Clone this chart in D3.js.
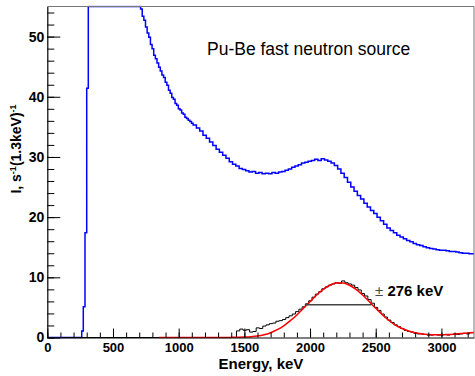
<!DOCTYPE html>
<html>
<head>
<meta charset="utf-8">
<script src="https://cdn.jsdelivr.net/npm/d3@7"></script>
<style>
  html, body { margin: 0; padding: 0; background: #fff; }
  svg { display: block; }
  text { font-family: "Liberation Sans", Arial, Helvetica, sans-serif; }
</style>
</head>
<body>
<svg id="chart" width="475" height="376"></svg>
<script>
// ---------------- data ----------------
const xTicks = [0, 500, 1000, 1500, 2000, 2500, 3000];
const yTicks = [0, 10, 20, 30, 40, 50];

// blue spectrum: rising edge (bin lower edges / values; plateau is off-scale)
const blueRiseE = [0, 262, 274, 287, 300, 312];
const blueRiseV = [0, 1.1, 5.1, 17.4, 41.4, 80];
// blue steep descent: 12.5 keV bins starting at 710 keV
const blueSteepStart = 710;
const blueSteepW = 12.5;
const blueSteepV = [
  54.6, 53.4, 52.7, 51.6, 50.6, 49.9, 48.7, 48.0, 46.9, 46.3,
  45.6, 44.9, 44.3, 43.6, 43.2, 42.4, 41.9, 41.1, 40.6, 39.9,
  39.6, 38.9, 38.6, 38.0, 37.8, 37.3, 37.1, 36.6, 36.4, 36.1,
  35.9, 35.6
];
// blue tail: 25 keV bins starting at 1110 keV
const blueTailStart = 1110;
const blueTailW = 25;
const blueTailV = [
  35.3, 34.8, 34.3, 33.6,
  33.1, 32.5, 31.9, 31.3, 30.8, 30.3, 29.8, 29.2, 28.8, 28.5,
  28.1, 27.9, 27.7, 27.5, 27.6, 27.3, 27.4, 27.2, 27.3, 27.2,
  27.4, 27.3, 27.5, 27.6, 27.8, 28.0, 28.3, 28.5, 28.7, 29.0,
  29.1, 29.3, 29.4, 29.6, 29.4, 29.7, 29.5, 29.3, 29.0, 28.6,
  28.0, 27.3, 26.6, 25.8, 25.0, 24.3, 23.6, 23.0, 22.3, 21.7,
  21.1, 20.6, 20.0, 19.4, 18.8, 18.2, 17.8, 17.4, 17.0, 16.7,
  16.4, 16.1, 15.9, 15.6, 15.4, 15.3, 15.1, 14.9, 14.8, 14.7,
  14.6, 14.5, 14.5, 14.4, 14.3, 14.3, 14.2, 14.1, 14.0, 14.0,
  13.9, 13.9
];

// black (peak) histogram: zero segment, then 25 keV bins from 1440 keV
const blackZeroE = 110;
const blackStart = 1440;
const blackW = 25;
const blackV = [
  1.1, 1.4, 1.2, 1.3, 0.9, 1.0, 1.6, 1.5, 1.9, 2.1,
  2.3, 2.4, 2.7, 2.8, 3.0, 3.3, 3.6, 3.9, 4.3, 4.7,
  5.1, 5.6, 6.1, 6.7, 7.2, 7.6, 8.1, 8.4, 8.7, 8.9,
  9.1, 9.0, 9.4, 9.1, 8.9, 8.7, 8.3, 7.9, 7.3, 6.9,
  6.3, 5.7, 5.0, 4.5, 3.9, 3.4, 2.9, 2.5, 2.1, 1.8,
  1.5, 1.2, 1.0, 0.9, 0.7, 0.6, 0.6, 0.5, 0.4, 0.4,
  0.5, 0.4, 0.4, 0.5, 0.4, 0.5, 0.6, 0.5, 0.6, 0.7,
  0.6, 0.8, 0.8
];

// red fit curve sampled every 50 keV from 850 keV
const redStart = 850;
const redStep = 50;
const redV = [
  0, 0, 0, 0, 0, 0, 0, 0, 0,
  0.01, 0.01, 0.02, 0.04, 0.07, 0.13, 0.24, 0.45, 0.8, 1.3,
  1.95, 2.8, 3.75, 4.85, 5.95, 7.05, 7.99, 8.68, 9.05, 9.05,
  8.68, 7.99, 7.05, 5.97, 4.85, 3.77, 2.82, 2.05, 1.49, 1.07,
  0.78, 0.60, 0.50, 0.46, 0.46, 0.50, 0.57, 0.65, 0.75, 0.85
];

// width marker
const fwhmE = [1960, 2467];
const fwhmLevel = 5.45;

const titleText = "Pu-Be fast neutron source";
const xTitle = "Energy, keV";
const widthLabel = "276 keV";

// ---------------- layout ----------------
const svg = d3.select("#chart");
const L = 47.3, T = 6.5, R = 474, B = 337.5;
const xMax = 3248, yMax = 55;
const x = d3.scaleLinear().domain([0, xMax]).range([L, R]);
const y = d3.scaleLinear().domain([0, yMax]).range([B, T]);
const yc = v => y(Math.min(v, yMax));

svg.append("clipPath").attr("id", "plotclip")
  .append("rect").attr("x", L).attr("y", T - 1).attr("width", R - L).attr("height", B - T + 2);

// step points from bin lower edges and values
function stepPoints(edges, vals, endE) {
  const pts = [];
  for (let i = 0; i < vals.length; i++) {
    const e0 = edges[i];
    const e1 = i + 1 < edges.length ? edges[i + 1] : endE;
    pts.push([e0, vals[i]], [e1, vals[i]]);
  }
  return pts;
}
const edgesFrom = (start, w, n) => d3.range(n).map(i => start + i * w);

const blueEdges = blueRiseE
  .concat(edgesFrom(blueSteepStart, blueSteepW, blueSteepV.length))
  .concat(edgesFrom(blueTailStart, blueTailW, blueTailV.length));
const blueVals = blueRiseV.concat(blueSteepV, blueTailV);
const bluePts = stepPoints(blueEdges, blueVals, blueTailStart + blueTailV.length * blueTailW);

const blackEdges = [blackZeroE].concat(edgesFrom(blackStart, blackW, blackV.length));
const blackVals = [0].concat(blackV);
const blackPts = stepPoints(blackEdges, blackVals, blackStart + blackV.length * blackW);

const redPts = redV.map((v, i) => [redStart + i * redStep, v]);

const lineXY = d3.line().x(d => x(d[0])).y(d => yc(d[1]));

const plot = svg.append("g").attr("clip-path", "url(#plotclip)");

plot.append("path").datum(bluePts).attr("d", lineXY)
  .attr("fill", "none").attr("stroke", "#0000ff").attr("stroke-width", 1.5);

plot.append("path").datum(blackPts).attr("d", lineXY)
  .attr("fill", "none").attr("stroke", "#000").attr("stroke-width", 1);

plot.append("path").datum(redPts)
  .attr("d", d3.line().x(d => x(d[0])).y(d => yc(d[1])).curve(d3.curveMonotoneX))
  .attr("fill", "none").attr("stroke", "#ff0000").attr("stroke-width", 1.5);

plot.append("line")
  .attr("x1", x(fwhmE[0])).attr("x2", x(fwhmE[1]))
  .attr("y1", y(fwhmLevel)).attr("y2", y(fwhmLevel))
  .attr("stroke", "#444").attr("stroke-width", 1.5);

// frame (top / right)
svg.append("path")
  .attr("d", `M${L},${T}H${R}V${B}`)
  .attr("fill", "none").attr("stroke", "#777").attr("stroke-width", 1);

// ---------------- axes ----------------
const xMinor = d3.range(0, xMax, 100);
const yMinor = d3.range(0, yMax + 0.01, 2);

svg.append("g").attr("transform", `translate(0,${B})`)
  .call(d3.axisBottom(x).tickValues(xMinor).tickSizeInner(-5).tickSizeOuter(0).tickFormat(""))
  .call(g => g.select(".domain").remove())
  .call(g => g.selectAll("line").attr("stroke", "#000"));

const xAxis = svg.append("g").attr("transform", `translate(0,${B})`)
  .call(d3.axisBottom(x).tickValues(xTicks).tickSizeInner(-9).tickSizeOuter(0).tickPadding(5).tickFormat(d3.format("d")));
xAxis.select(".domain").attr("stroke", "#000").attr("stroke-width", 1.2);
xAxis.selectAll("line").attr("stroke", "#000");
xAxis.selectAll("text").attr("font-size", 13).attr("font-weight", "bold")
  .attr("font-family", "Liberation Sans, Arial, sans-serif").attr("fill", "#000");

svg.append("g").attr("transform", `translate(${L},0)`)
  .call(d3.axisLeft(y).tickValues(yMinor).tickSizeInner(-7).tickSizeOuter(0).tickFormat(""))
  .call(g => g.select(".domain").remove())
  .call(g => g.selectAll("line").attr("stroke", "#000"));

const yAxis = svg.append("g").attr("transform", `translate(${L},0)`)
  .call(d3.axisLeft(y).tickValues(yTicks).tickSizeInner(-13).tickSizeOuter(0).tickPadding(3).tickFormat(d3.format("d")));
yAxis.select(".domain").attr("stroke", "#000").attr("stroke-width", 1.2);
yAxis.selectAll("line").attr("stroke", "#000");
yAxis.selectAll("text").attr("font-size", 14).attr("font-weight", "bold")
  .attr("font-family", "Liberation Sans, Arial, sans-serif").attr("fill", "#000");

// ---------------- texts ----------------
svg.append("text").attr("x", 207).attr("y", 55)
  .attr("font-size", 17.5).attr("fill", "#000").text(titleText);

svg.append("text").attr("x", 261).attr("y", 368.5).attr("text-anchor", "middle")
  .attr("font-size", 15).attr("font-weight", "bold").attr("fill", "#000").text(xTitle);

const yt = svg.append("text")
  .attr("transform", "translate(20.5,149) rotate(-90)")
  .attr("text-anchor", "middle").attr("font-size", 14).attr("font-weight", "bold").attr("fill", "#000");
yt.append("tspan").text("I, s");
yt.append("tspan").attr("font-size", 9).attr("dy", -5).text("-1");
yt.append("tspan").attr("dy", 5).text("(1.3keV)");
yt.append("tspan").attr("font-size", 9).attr("dy", -5).text("-1");

const wl = svg.append("text").attr("x", 375).attr("y", 296).attr("fill", "#000");
wl.append("tspan").attr("font-size", 15).attr("fill", "#444").text("\u00B1");
wl.append("tspan").attr("font-size", 15).attr("font-weight", "bold").text(" " + widthLabel);
</script>
</body>
</html>
